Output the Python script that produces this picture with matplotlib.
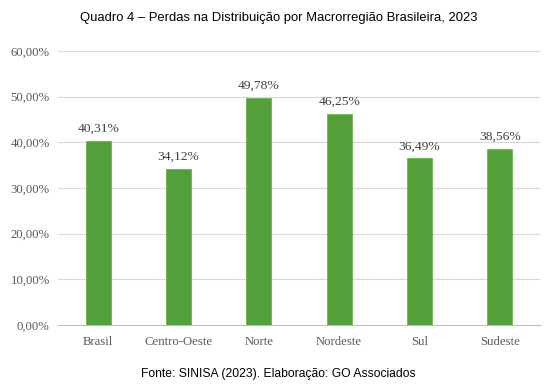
import matplotlib.pyplot as plt
from matplotlib.ticker import FuncFormatter

regioes = ['Brasil', 'Centro-Oeste', 'Norte', 'Nordeste', 'Sul', 'Sudeste']
perdas = [40.31, 34.12, 49.78, 46.25, 36.49, 38.56]
yticks = [0, 10, 20, 30, 40, 50, 60]

narrow = ['Liberation Sans Narrow', 'Liberation Sans', 'DejaVu Sans']
serif = ['Liberation Serif', 'DejaVu Serif']

def pct(v, pos=None):
    return f'{v:.2f}%'.replace('.', ',')

fig = plt.figure(figsize=(5.51, 3.92), dpi=100)
ax = fig.add_axes([0.1053, 0.171, 0.8747, 0.699])

x = range(len(regioes))
bars = ax.bar(x, perdas, width=0.31, color='#53A03B', edgecolor='#6DB554', linewidth=0.6, zorder=3)
for b, v in zip(bars, perdas):
    ax.text(b.get_x() + b.get_width() / 2, v + 1.3, pct(v), ha='center', va='bottom',
            fontsize=9.7, color='#404040', family=serif)

ax.set_xlim(-0.5, len(regioes) - 0.5)
ax.set_ylim(0, 60)
ax.set_yticks(yticks)
ax.yaxis.set_major_formatter(FuncFormatter(pct))
ax.set_xticks(list(x))
ax.set_xticklabels(regioes)
ax.grid(axis='y', color='#d9d9d9', linewidth=0.8, zorder=0)
for s in ['top', 'right', 'left']:
    ax.spines[s].set_visible(False)
ax.spines['bottom'].set_color('#bfbfbf')
ax.tick_params(length=0, colors='#595959', labelsize=9.2, pad=8)
for lab in ax.get_xticklabels() + ax.get_yticklabels():
    lab.set_family(serif)
ax.tick_params(axis='y', pad=6)

fig.text(0.505, 0.953, 'Quadro 4 – Perdas na Distribuição por Macrorregião Brasileira, 2023',
         ha='center', va='center', fontsize=9.4, family=narrow)
fig.text(0.505, 0.046, 'Fonte: SINISA (2023). Elaboração: GO Associados',
         ha='center', va='center', fontsize=8.7, family=narrow)

fig.savefig('out.png', dpi=100)
